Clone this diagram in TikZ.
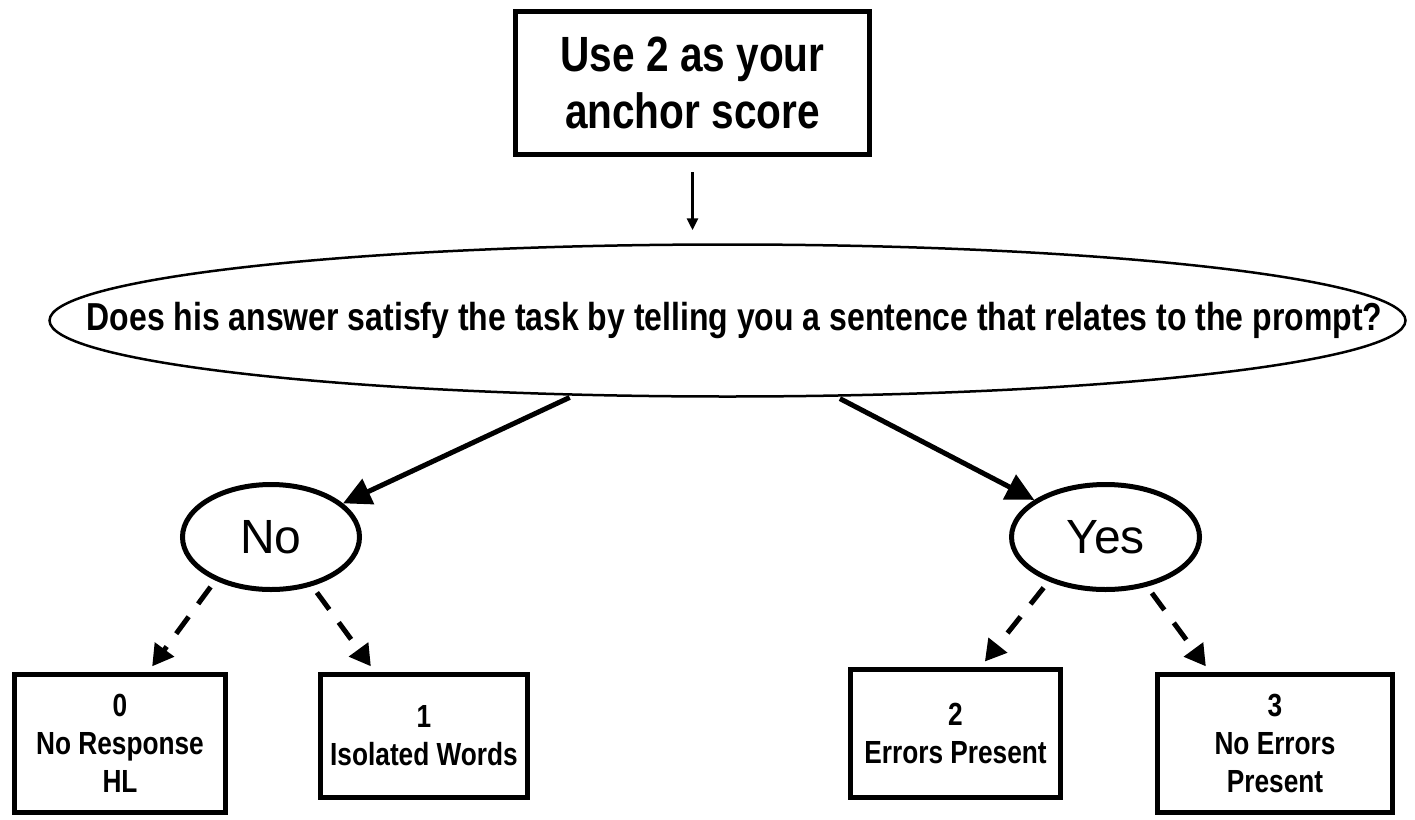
\documentclass[tikz,border=0pt]{standalone}
\usepackage{fontspec}
\setmainfont{Liberation Sans}
\newfontfamily\narrowfont[FakeStretch=0.82]{Liberation Sans}
\usetikzlibrary{arrows.meta,positioning,shapes.geometric}

\begin{document}
\begin{tikzpicture}[x=1pt,y=-1pt,
	topbox/.style={draw,rectangle,line width=5pt,inner sep=0pt,align=center,minimum width=354pt,minimum height=143pt,font=\narrowfont\bfseries\fontsize{49.5}{57}\selectfont},
	question/.style={draw,ellipse,line width=2.5pt,inner sep=0pt,minimum width=1356pt,minimum height=152pt,font=\narrowfont\bfseries\fontsize{39}{46}\selectfont},
	choice/.style={draw,ellipse,line width=5pt,inner sep=0pt,minimum height=105pt,font=\fontsize{48}{56}\selectfont},
	scorebox/.style={draw,rectangle,line width=5pt,inner sep=0pt,align=center,font=\narrowfont\bfseries\fontsize{32}{38}\selectfont},
	thinarrow/.style={line width=3pt,shorten <=15pt,shorten >=13pt,-{Triangle[length=12pt,width=11pt]}},
	solidarrow/.style={line width=5pt,shorten <=4pt,-{Triangle[length=28pt,width=27pt]}},
	dasharrow/.style={line width=5pt,dash pattern=on 21pt off 16pt,shorten <=8pt,shorten >=7pt,-{Triangle[length=21pt,width=23pt]}}]

	\useasboundingbox (0,0) rectangle (1415,819);

	\node[topbox] (anchor) at (692.5,83) {Use 2 as your\\anchor score};
	\node[question] (task) at (727.5,320.5) {\makebox[0pt]{\hspace{14pt}Does his answer satisfy the task by telling you a sentence that relates to the prompt?}};

	\node[choice,minimum width=177pt] (no) at (271,537) {No};
	\node[choice,minimum width=188pt] (yes) at (1105.5,537) {Yes};

	\node[scorebox,minimum width=211pt,minimum height=138pt] (zero) at (120,743.5) {0\\No Response\\HL};
	\node[scorebox,minimum width=207pt,minimum height=123pt] (one) at (424,736) {1\\Isolated Words};
	\node[scorebox,minimum width=210pt,minimum height=128pt] (two) at (955.5,733.5) {2\\Errors Present};
	\node[scorebox,minimum width=235pt,minimum height=138pt] (three) at (1275,743.5) {3\\No Errors\\Present};

	% from the anchor box down to the question
	\path[thinarrow] (anchor) edge (anchor |- task.north);

	\path[solidarrow]
		(task.206) edge (no)
		(task.-35) edge (yes);

	\path[dasharrow]
		(no.218) edge ([xshift=28pt]zero.north)
		(no.-50) edge ([xshift=-49pt]one.north)
		(yes.218) edge ([xshift=25pt]two.north)
		(yes.-50) edge ([xshift=-65pt]three.north);
\end{tikzpicture}
\end{document}
